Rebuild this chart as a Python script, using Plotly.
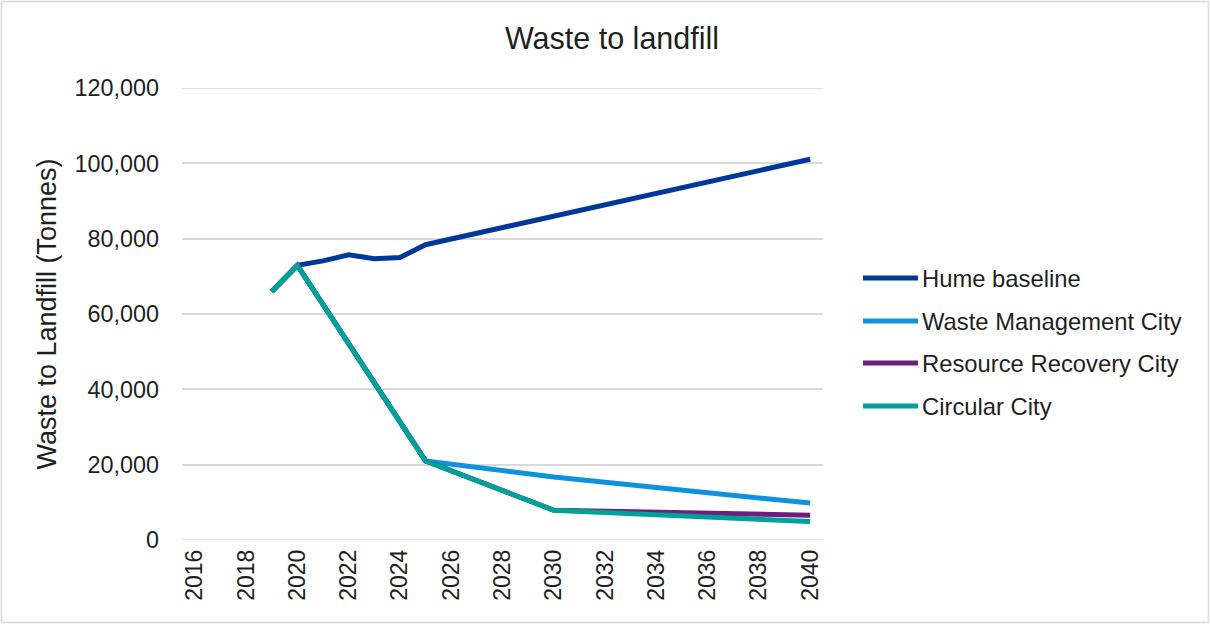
import plotly.graph_objects as go

# ---- data ----
series_names = ["Hume baseline", "Waste Management City", "Resource Recovery City", "Circular City"]

hume_years = [2019, 2020, 2021, 2022, 2023, 2024, 2025, 2040]
hume_vals = [66000, 72900, 74100, 75700, 74700, 75000, 78400, 101100]

wmc_years = [2019, 2020, 2025, 2030, 2040]
wmc_vals = [66000, 72900, 21000, 16700, 9800]

rrc_years = [2019, 2020, 2025, 2030, 2040]
rrc_vals = [66000, 72900, 21000, 7900, 6600]

cc_years = [2019, 2020, 2025, 2030, 2040]
cc_vals = [66000, 72900, 21000, 7900, 4900]

x_tick_years = list(range(2016, 2041, 2))
y_tick_vals = [0, 20000, 40000, 60000, 80000, 100000, 120000]

colors = ["#00379A", "#0E92DD", "#6C1F7B", "#00A19A"]

# ---- layout geometry ----
W, H = 1210, 624
L, R, T, B = 182, 387, 88, 84
PW, PH = W - L - R, H - T - B
FONT = "Liberation Sans, Arial, sans-serif"
TXT = "#1f1f1f"


def px_x(p):
    return (p - L) / PW


def px_y(p):
    return (H - B - p) / PH


fig = go.Figure()
all_series = [(hume_years, hume_vals), (wmc_years, wmc_vals), (rrc_years, rrc_vals), (cc_years, cc_vals)]
for (xs, ys), name, col in zip(all_series, series_names, colors):
    fig.add_trace(go.Scatter(
        x=xs, y=ys, mode="lines", name=name,
        line=dict(color=col, width=5),
        showlegend=False, hoverinfo="x+y+name",
    ))

shapes = []
annotations = []

# gridlines at the range edges (plotly omits them)
for v in (y_tick_vals[0], y_tick_vals[-1]):
    shapes.append(dict(type="line", xref="paper", yref="y", x0=0, x1=1, y0=v, y1=v,
                       line=dict(color="#D9D9D9", width=1.5), layer="below"))

# custom legend (long line samples like the original)
legend_y = [278, 321, 363, 406]
for name, col, ly in zip(series_names, colors, legend_y):
    shapes.append(dict(type="line", xref="paper", yref="paper",
                       x0=px_x(863), x1=px_x(918), y0=px_y(ly), y1=px_y(ly),
                       line=dict(color=col, width=5), layer="above"))
    annotations.append(dict(xref="paper", yref="paper", x=px_x(920), y=px_y(ly),
                            xanchor="left", yanchor="middle", showarrow=False,
                            text=name, font=dict(family=FONT, size=23.8, color=TXT)))

# chart-area border
shapes.append(dict(type="rect", xref="paper", yref="paper",
                   x0=px_x(1.5), x1=px_x(W - 1.5), y0=px_y(H - 1.5), y1=px_y(1.5),
                   line=dict(color="#D9D9D9", width=1.5), fillcolor="rgba(0,0,0,0)", layer="below"))

fig.update_layout(
    width=W, height=H,
    margin=dict(l=L, r=R, t=T, b=B),
    paper_bgcolor="white", plot_bgcolor="white",
    font=dict(family=FONT, size=23, color=TXT),
    title=dict(text="Waste to landfill", x=612 / W, xref="container", xanchor="center",
               y=1 - 38 / H, yref="container", yanchor="middle",
               font=dict(family=FONT, size=30.5, color=TXT)),
    shapes=shapes,
    annotations=annotations,
    showlegend=False,
)

fig.update_xaxes(
    range=[2015.5, 2040.5], tickmode="array", tickvals=x_tick_years,
    ticktext=[str(y) for y in x_tick_years], tickangle=-90,
    showgrid=False, zeroline=False, showline=False, ticks="",
    ticklabelstandoff=4,
    tickfont=dict(family=FONT, size=23, color=TXT),
)
fig.update_yaxes(
    range=[0, 120000], tickmode="array", tickvals=y_tick_vals,
    ticktext=[f"{v:,}" for v in y_tick_vals],
    showgrid=True, gridcolor="#D9D9D9", gridwidth=1.5,
    zeroline=False, showline=False, ticks="",
    ticklabelstandoff=22,
    tickfont=dict(family=FONT, size=23.4, color=TXT),
    title=dict(text="Waste to Landfill (Tonnes)", standoff=9,
               font=dict(family=FONT, size=27, color=TXT)),
)

fig.write_html("out.html")
